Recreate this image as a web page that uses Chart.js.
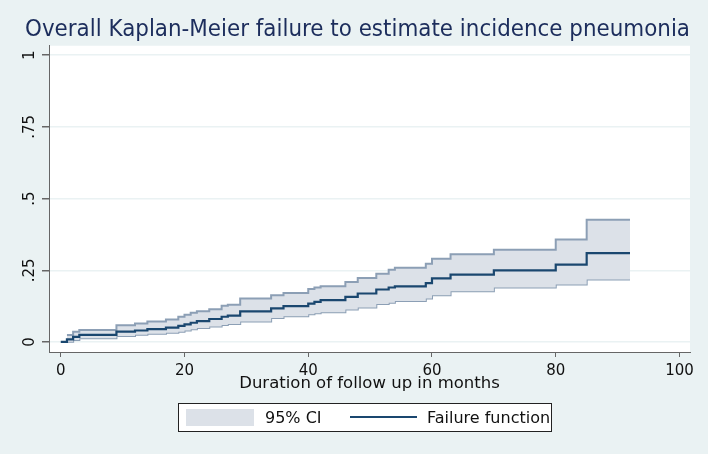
<!DOCTYPE html>
<html lang="en">
<head>
    <meta charset="UTF-8">
    <title>Kaplan-Meier failure</title>
    <script src="https://cdn.jsdelivr.net/npm/chart.js"></script>
    <style>
        body { margin: 0; background: #eaf2f3; }
        #kmChart { display: block; }
    </style>
</head>
<body>
    <canvas id="kmChart" width="708" height="454"></canvas>
    <script>
        // step times (months) and the KM failure estimate with its 95% CI
        const months   = [0, 1, 2, 3, 9, 12, 14, 17, 19, 20, 21, 22, 24, 26, 27, 29, 34, 36, 40, 41, 42, 46, 48, 51, 53, 54, 59, 60, 63, 70, 80, 85, 92];
        const failure  = [0, 0.009, 0.018, 0.025, 0.036, 0.040, 0.045, 0.050, 0.056, 0.061, 0.067, 0.073, 0.080, 0.088, 0.092, 0.107, 0.117, 0.125, 0.134, 0.140, 0.146, 0.157, 0.169, 0.183, 0.190, 0.194, 0.205, 0.222, 0.235, 0.250, 0.270, 0.310, 0.310];
        const ciLower  = [null, 0.001, 0.007, 0.013, 0.021, 0.025, 0.029, 0.032, 0.036, 0.040, 0.044, 0.049, 0.054, 0.059, 0.063, 0.071, 0.084, 0.090, 0.097, 0.100, 0.104, 0.113, 0.120, 0.132, 0.137, 0.143, 0.152, 0.163, 0.177, 0.190, 0.200, 0.218, 0.218];
        const ciUpper  = [null, 0.024, 0.036, 0.042, 0.058, 0.064, 0.071, 0.078, 0.088, 0.095, 0.102, 0.107, 0.114, 0.126, 0.130, 0.152, 0.163, 0.171, 0.185, 0.190, 0.194, 0.209, 0.223, 0.238, 0.252, 0.259, 0.273, 0.290, 0.306, 0.322, 0.357, 0.426, 0.426];

        const xTicks = [0, 20, 40, 60, 80, 100];
        const yTicks = [0, 0.25, 0.5, 0.75, 1];
        const yTickLabels = ['0', '.25', '.5', '.75', '1'];

        const FONT = 'DejaVu Sans';
        const lineColor = '#1a476f';
        const ciFill = '#dce1e8';
        const ciEdge = '#8c9fb5';

        const pts = ys => months.map((m, i) => ({ x: m, y: ys[i] }));

        // grey page, white plot region; title nudged right of the y labels
        const background = {
            id: 'background',
            afterLayout(chart) {
                chart.titleBlock.left = 25;
            },
            beforeDraw(chart) {
                const ctx = chart.ctx, a = chart.chartArea;
                ctx.save();
                ctx.fillStyle = '#eaf2f3';
                ctx.fillRect(0, 0, chart.width, chart.height);
                ctx.fillStyle = '#ffffff';
                ctx.fillRect(a.left, a.top, a.right - a.left, a.bottom - a.top);
                ctx.restore();
            }
        };

        // Stata style boxed legend under the axis title
        const boxLegend = {
            id: 'boxLegend',
            afterDraw(chart) {
                const ctx = chart.ctx;
                ctx.save();
                ctx.fillStyle = '#ffffff';
                ctx.fillRect(178, 403, 373, 29);
                ctx.strokeStyle = '#222';
                ctx.lineWidth = 1;
                ctx.strokeRect(178.5, 403.5, 373, 28);

                ctx.fillStyle = ciFill;
                ctx.fillRect(186, 409, 68, 17);

                ctx.strokeStyle = lineColor;
                ctx.lineWidth = 2;
                ctx.beginPath();
                ctx.moveTo(350, 417);
                ctx.lineTo(417, 417);
                ctx.stroke();

                ctx.fillStyle = '#111';
                ctx.font = '16px "' + FONT + '"';
                ctx.textBaseline = 'alphabetic';
                ctx.textAlign = 'left';
                ctx.fillText('95% CI', 265, 423);
                ctx.fillText('Failure function', 427, 423);
                ctx.restore();
            }
        };

        const config = {
            type: 'line',
            data: {
                datasets: [
                    {
                        label: 'Failure function',
                        data: pts(failure),
                        borderColor: lineColor,
                        borderWidth: 2.2,
                        stepped: 'before',
                        pointRadius: 0,
                        fill: false
                    },
                    {
                        label: '95% CI',
                        data: pts(ciUpper),
                        borderColor: ciEdge,
                        borderWidth: 2,
                        backgroundColor: ciFill,
                        stepped: 'before',
                        pointRadius: 0,
                        fill: '+1'
                    },
                    {
                        label: '95% CI lower',
                        data: pts(ciLower),
                        borderColor: ciEdge,
                        borderWidth: 2,
                        stepped: 'before',
                        pointRadius: 0,
                        fill: false
                    }
                ]
            },
            options: {
                responsive: false,
                animation: false,
                layout: { padding: { left: 18, right: 18, top: 0, bottom: 60 } },
                scales: {
                    x: {
                        type: 'linear',
                        min: -1.9,
                        max: 101.7,
                        afterBuildTicks: s => { s.ticks = xTicks.map(v => ({ value: v })); },
                        afterFit: s => { s.height = 42; },
                        grid: { drawOnChartArea: false, tickLength: 5, tickColor: '#666' },
                        border: { color: '#666', width: 1 },
                        ticks: { color: '#111', font: { family: FONT, size: 15 }, padding: 5, maxRotation: 0 },
                        title: {
                            display: true,
                            text: 'Duration of follow up in months',
                            color: '#111',
                            font: { family: FONT, size: 16.5 },
                            padding: { top: 0, bottom: 0 }
                        }
                    },
                    y: {
                        min: -0.035,
                        max: 1.033,
                        afterBuildTicks: s => { s.ticks = yTicks.map(v => ({ value: v })); },
                        afterFit: s => { s.width = 31; },
                        grid: { color: '#eaf2f3', lineWidth: 1.5, tickLength: 7, tickColor: '#666' },
                        border: { color: '#666', width: 1 },
                        ticks: {
                            color: '#111',
                            font: { family: FONT, size: 15 },
                            padding: 0,
                            minRotation: 90,
                            maxRotation: 90,
                            crossAlign: 'center',
                            callback: (v) => yTickLabels[yTicks.indexOf(v)]
                        }
                    }
                },
                plugins: {
                    legend: { display: false },
                    tooltip: { enabled: false },
                    title: {
                        display: true,
                        text: 'Overall Kaplan-Meier failure to estimate incidence pneumonia',
                        align: 'start',
                        color: '#1c2d5c',
                        font: { family: FONT, size: 22.3, weight: 'normal' },
                        padding: { top: 17, bottom: 2 }
                    }
                }
            },
            plugins: [background, boxLegend]
        };

        const kmChart = new Chart(document.getElementById('kmChart'), config);
    </script>
</body>
</html>
